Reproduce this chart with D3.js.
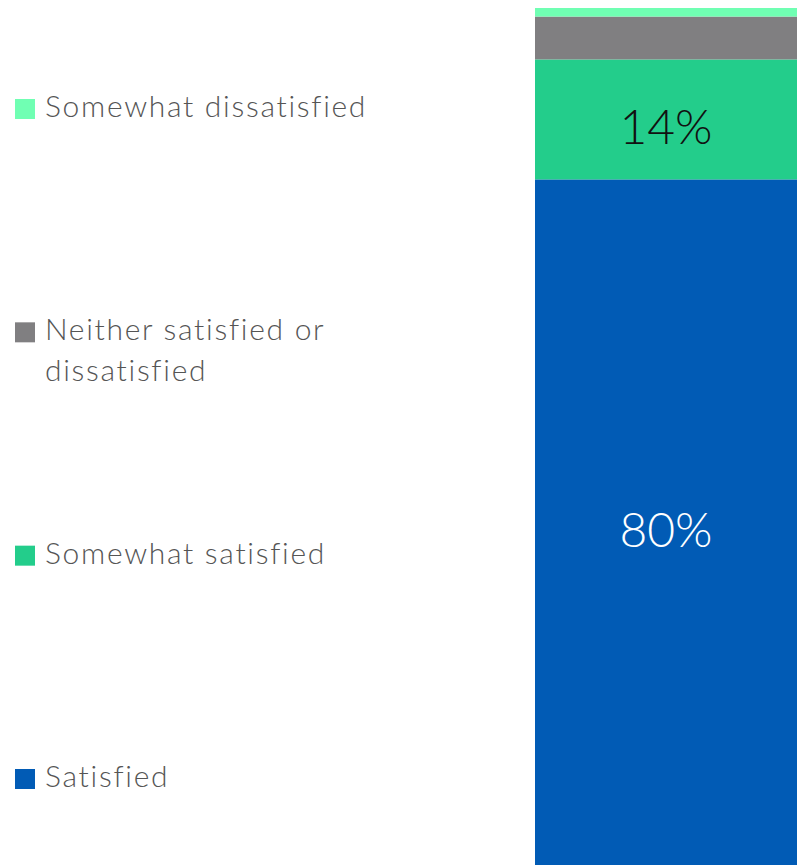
<!DOCTYPE html>
<html>
<head>
<meta charset="utf-8">
<script src="https://cdn.jsdelivr.net/npm/d3@7"></script>
<style>
  html, body { margin: 0; padding: 0; background: #fff; }
  svg { display: block; }
  text { font-family: Lato, "Open Sans", sans-serif; }
</style>
</head>
<body>
<svg id="chart" width="797" height="865"></svg>
<script>
// Satisfaction shares, stacked bottom to top
const categories = ["Satisfied", "Somewhat satisfied", "Neither satisfied or dissatisfied", "Somewhat dissatisfied"];
const values = [80, 14, 5, 1];
const valueLabels = ["80%", "14%", "", ""];
const colors = ["#015bb5", "#23cd8b", "#807f81", "#70ffb3"];
const labelColors = ["#ffffff", "#111111", "#111111", "#111111"];
const legendLines = [["Satisfied"], ["Somewhat satisfied"], ["Neither satisfied or", "dissatisfied"], ["Somewhat dissatisfied"]];

const W = 797, H = 865;
const svg = d3.select("#chart");

// Stack layout
const rows = [Object.fromEntries(categories.map((c, i) => [c, values[i]]))];
const series = d3.stack().keys(categories)(rows);

const total = d3.sum(values);
const y = d3.scaleLinear().domain([0, total]).range([H, 8]);
const x = d3.scaleBand().domain(["all"]).range([535, 797]).padding(0);

const seg = svg.append("g").selectAll("g")
  .data(series)
  .join("g");

seg.append("rect")
  .attr("x", x("all"))
  .attr("width", x.bandwidth())
  .attr("y", d => y(d[0][1]))
  .attr("height", d => y(d[0][0]) - y(d[0][1]))
  .attr("fill", (d, i) => colors[i]);

seg.filter((d, i) => valueLabels[i] !== "")
  .append("text")
  .attr("x", x("all") + x.bandwidth() / 2)
  .attr("y", d => (y(d[0][0]) + y(d[0][1])) / 2 + 25)
  .attr("text-anchor", "middle")
  .attr("font-size", 48)
  .attr("font-weight", 300)
  .attr("fill", d => labelColors[series.indexOf(d)])
  .text(d => valueLabels[series.indexOf(d)]);

// Legend, listed top to bottom in reverse stack order
const legendOrder = d3.range(categories.length).reverse();
const ly = d3.scalePoint().domain(legendOrder).range([117, 787]);

const leg = svg.append("g").selectAll("g")
  .data(legendOrder)
  .join("g")
  .attr("transform", i => `translate(0,${ly(i)})`);

leg.append("rect")
  .attr("x", 15)
  .attr("y", -18)
  .attr("width", 20)
  .attr("height", 20)
  .attr("fill", i => colors[i]);

leg.append("text")
  .attr("x", 45)
  .attr("y", 0)
  .attr("font-size", 30)
  .attr("font-weight", 300)
  .attr("letter-spacing", 1.7)
  .attr("fill", "#555555")
  .selectAll("tspan")
  .data(i => legendLines[i])
  .join("tspan")
  .attr("x", 45)
  .attr("dy", (d, j) => j === 0 ? 0 : 41)
  .text(d => d);
</script>
</body>
</html>
